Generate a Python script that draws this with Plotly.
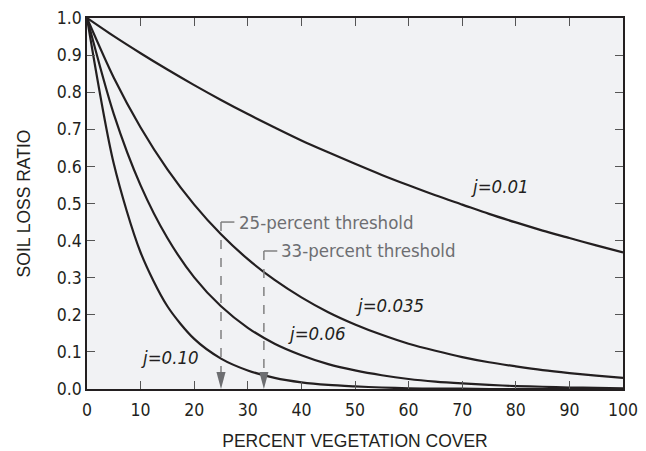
import plotly.graph_objects as go

# Percent vegetation cover (x) and soil loss ratio
cover = [0, 5, 10, 15, 20, 25, 30, 35, 40, 45, 50, 55, 60, 65, 70, 75, 80, 85, 90, 95, 100]
slr_j001 = [1.0, 0.951, 0.905, 0.861, 0.819, 0.779, 0.741, 0.705, 0.670, 0.638, 0.607,
            0.577, 0.549, 0.522, 0.497, 0.472, 0.449, 0.427, 0.407, 0.387, 0.368]
slr_j0035 = [1.0, 0.839, 0.705, 0.592, 0.497, 0.417, 0.350, 0.294, 0.247, 0.207, 0.174,
             0.146, 0.122, 0.103, 0.086, 0.072, 0.061, 0.051, 0.043, 0.036, 0.030]
slr_j006 = [1.0, 0.741, 0.549, 0.407, 0.301, 0.223, 0.165, 0.122, 0.091, 0.067, 0.050,
            0.037, 0.027, 0.020, 0.015, 0.011, 0.008, 0.006, 0.004, 0.003, 0.002]
slr_j010 = [1.0, 0.607, 0.368, 0.223, 0.135, 0.082, 0.050, 0.030, 0.018, 0.011, 0.007,
            0.004, 0.002, 0.001, 0.001, 0.0, 0.0, 0.0, 0.0, 0.0, 0.0]

series = [slr_j001, slr_j0035, slr_j006, slr_j010]
curve_labels = ["j=0.01", "j=0.035", "j=0.06", "j=0.10"]
label_pos = [(77, 0.545), (56.5, 0.226), (43, 0.150), (15.5, 0.086)]

thresholds = [25, 33]
threshold_tops = [0.45, 0.372]
threshold_labels = ["25-percent threshold", "33-percent threshold"]

cond = "DejaVu Sans Condensed, Liberation Sans Narrow, sans-serif"
gray = "#6d6e71"

fig = go.Figure()
for ys in series:
    fig.add_trace(go.Scatter(x=cover, y=ys, mode="lines",
                             line=dict(color="#231f20", width=2.2, shape="spline", smoothing=0.8),
                             showlegend=False, hoverinfo="skip"))

for lab, (lx, ly) in zip(curve_labels, label_pos):
    fig.add_annotation(x=lx, y=ly, text="<i>" + lab + "</i>", showarrow=False,
                       font=dict(family=cond, size=18.5, color="#231f20"))

shapes = []
for t, top, lab in zip(thresholds, threshold_tops, threshold_labels):
    shapes.append(dict(type="line", x0=t, x1=t, y0=top, y1=0.04, xref="x", yref="y",
                       line=dict(color="#808080", width=1.5, dash="dash")))
    shapes.append(dict(type="line", x0=t, x1=t + 2.5, y0=top, y1=top, xref="x", yref="y",
                       line=dict(color="#808080", width=1.5)))
    shapes.append(dict(type="path", xref="x", yref="y",
                       path=f"M {t-0.85},0.046 L {t+0.85},0.046 L {t},0 Z",
                       fillcolor="#6d6e71", line=dict(width=0)))
    fig.add_annotation(x=t + 2.9, y=top, text=lab, showarrow=False, xanchor="left",
                       font=dict(family=cond, size=18.5, color=gray))

fig.update_layout(
    width=646, height=451,
    margin=dict(l=87, r=23, t=18, b=62, autoexpand=False),
    paper_bgcolor="white", plot_bgcolor="#f1f2f4",
    shapes=shapes,
)
title_font = dict(family="Liberation Sans, Arial, sans-serif", size=17.5, color="#231f20")
fig.update_xaxes(range=[0, 100], dtick=10, tick0=0, ticks="inside", ticklen=8,
                 tickcolor="#555", showgrid=False, zeroline=False, automargin=False,
                 showline=True, linecolor="#231f20", linewidth=1.5, mirror="ticks",
                 ticklabelstandoff=4,
                 tickfont=dict(family=cond, size=17.5, color="#231f20"),
                 title=dict(text="PERCENT VEGETATION COVER", standoff=16, font=title_font))
fig.update_yaxes(range=[0, 1.0], dtick=0.1, tick0=0, tickformat=".1f", ticks="inside", ticklen=8,
                 tickcolor="#555", showgrid=False, zeroline=False, automargin=False,
                 showline=True, linecolor="#231f20", linewidth=1.5, mirror="ticks",
                 tickfont=dict(family=cond, size=17.5, color="#231f20"),
                 title=dict(text="SOIL LOSS RATIO", standoff=22, font=title_font))

fig.write_html("out.html")
